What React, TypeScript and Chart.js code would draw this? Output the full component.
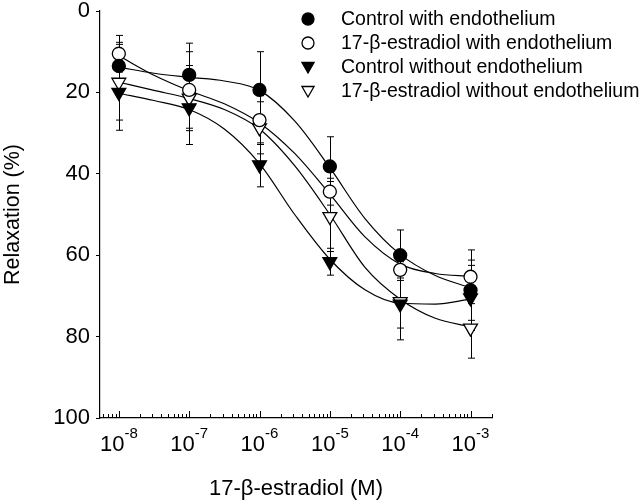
import React, { useEffect, useRef } from 'react';
import { Chart, registerables } from 'chart.js';

Chart.register(...registerables);

const FONT = '"Liberation Sans", Arial, sans-serif';

// Measured concentrations (M)
const concentrations = [1e-8, 1e-7, 1e-6, 1e-5, 1e-4, 1e-3];

// Mean relaxation (%) and error (±) for each group
const controlWith = [13.5, 15.7, 19.4, 38.2, 60.0, 68.6];
const controlWithErr = [5.8, 7.8, 9.4, 7.3, 6.2, 7.4];
const estradiolWith = [10.5, 19.4, 26.8, 44.4, 63.6, 65.3];
const estradiolWithErr = [4.5, 9.4, 6.0, 3.3, 2.0, 6.6];
const controlWithout = [20.0, 23.8, 37.8, 61.6, 72.0, 70.5];
const controlWithoutErr = [9.3, 9.0, 5.4, 3.3, 8.8, 8.0];
const estradiolWithout = [17.5, 21.4, 28.7, 50.5, 71.4, 77.9];
const estradiolWithoutErr = [9.3, 8.0, 6.4, 8.6, 6.5, 7.4];

// Fitted curves at half-decade steps
const fitConcentrations = [1e-8, 3.16e-8, 1e-7, 3.16e-7, 1e-6, 3.16e-6, 1e-5, 3.16e-5, 1e-4, 3.16e-4, 1e-3];
const controlWithFit = [13.8, 15.3, 16.3, 17.2, 19.5, 27.0, 38.5, 51.0, 59.8, 65.0, 68.0];
const estradiolWithFit = [11.0, 15.8, 19.6, 22.8, 27.5, 35.0, 45.0, 55.5, 62.2, 64.5, 65.2];
const controlWithoutFit = [20.2, 22.0, 24.2, 29.0, 37.5, 50.0, 61.0, 68.5, 71.8, 72.0, 70.8];
const estradiolWithoutFit = [17.5, 19.5, 21.5, 24.2, 29.0, 38.0, 50.0, 63.0, 70.8, 75.5, 77.6];

const seriesLabels = [
  'Control with endothelium',
  '17-β-estradiol with endothelium',
  'Control without endothelium',
  '17-β-estradiol without endothelium',
];

const decadeTicks = [1e-8, 1e-7, 1e-6, 1e-5, 1e-4, 1e-3];
const decadeExponents = ['-8', '-7', '-6', '-5', '-4', '-3'];
const minorMultipliers = [2, 3, 4, 5, 6, 7, 8, 9];

const yTickStep = 20;

const means = [controlWith, estradiolWith, controlWithout, estradiolWithout];
const errors = [controlWithErr, estradiolWithErr, controlWithoutErr, estradiolWithoutErr];
const fits = [controlWithFit, estradiolWithFit, controlWithoutFit, estradiolWithoutFit];
const styles = [
  { shape: 'circle', fill: '#000' },
  { shape: 'circle', fill: '#fff' },
  { shape: 'triangle', fill: '#000' },
  { shape: 'triangle', fill: '#fff' },
];

function drawMarker(ctx: CanvasRenderingContext2D, shape: string, fill: string, x: number, y: number, r: number) {
  ctx.save();
  ctx.beginPath();
  if (shape === 'circle') {
    ctx.arc(x, y, r, 0, Math.PI * 2);
  } else {
    const s = r;
    ctx.moveTo(x - s * 0.866, y - s * 0.5);
    ctx.lineTo(x + s * 0.866, y - s * 0.5);
    ctx.lineTo(x, y + s);
    ctx.closePath();
  }
  ctx.fillStyle = fill;
  ctx.fill();
  ctx.lineWidth = 1.3;
  ctx.strokeStyle = '#000';
  ctx.stroke();
  ctx.restore();
}

const customPlugin = {
  id: 'customDraw',
  beforeDatasetsDraw(chart: any) {
    const { ctx } = chart;
    const xs = chart.scales.x;
    const ys = chart.scales.y;
    ctx.save();
    ctx.strokeStyle = '#000';
    ctx.lineWidth = 1;
    means.forEach((m, si) => {
      m.forEach((v, i) => {
        const px = Math.round(xs.getPixelForValue(concentrations[i])) + 0.5;
        const e = errors[si][i];
        const top = ys.getPixelForValue(v - e);
        const bot = ys.getPixelForValue(v + e);
        ctx.beginPath();
        ctx.moveTo(px, top);
        ctx.lineTo(px, bot);
        ctx.moveTo(px - 3.5, top);
        ctx.lineTo(px + 3.5, top);
        ctx.moveTo(px - 3.5, bot);
        ctx.lineTo(px + 3.5, bot);
        ctx.stroke();
      });
    });
    ctx.restore();
  },
  afterDraw(chart: any) {
    const { ctx, chartArea } = chart;
    const xs = chart.scales.x;
    const yBase = chartArea.bottom;
    ctx.save();
    ctx.strokeStyle = '#000';
    ctx.lineWidth = 1;
    // minor and major ticks on x axis pointing inward
    const decadesAll = [1e-9, ...decadeTicks];
    decadesAll.forEach((d) => {
      minorMultipliers.forEach((m) => {
        const v = d * m;
        if (v < xs.min || v > xs.max) return;
        const px = Math.round(xs.getPixelForValue(v)) + 0.5;
        ctx.beginPath();
        ctx.moveTo(px, yBase);
        ctx.lineTo(px, yBase - 4);
        ctx.stroke();
      });
    });
    decadeTicks.forEach((d) => {
      const px = Math.round(xs.getPixelForValue(d)) + 0.5;
      ctx.beginPath();
      ctx.moveTo(px, yBase);
      ctx.lineTo(px, yBase - 7);
      ctx.stroke();
    });
    // decade labels with superscripts
    ctx.fillStyle = '#000';
    ctx.textBaseline = 'alphabetic';
    decadeTicks.forEach((d, i) => {
      const px = xs.getPixelForValue(d);
      ctx.font = `22px ${FONT}`;
      const w1 = ctx.measureText('10').width;
      ctx.font = `15px ${FONT}`;
      const w2 = ctx.measureText(decadeExponents[i]).width;
      const start = px - (w1 + w2) / 2;
      ctx.font = `22px ${FONT}`;
      ctx.fillText('10', start, 451);
      ctx.font = `15px ${FONT}`;
      ctx.fillText(decadeExponents[i], start + w1, 438);
    });
    // legend
    const legendX = 308;
    const textX = 341;
    const rows = [19, 43, 67, 91];
    seriesLabels.forEach((label, i) => {
      const st = styles[i];
      drawMarker(ctx, st.shape, st.fill, legendX, rows[i] + (st.shape === 'triangle' ? -1 : 0), st.shape === 'circle' ? 6 : 7);
      ctx.font = `19.5px ${FONT}`;
      ctx.fillStyle = '#000';
      ctx.textBaseline = 'middle';
      ctx.fillText(label, textX, rows[i] + 1);
    });
    ctx.restore();
  },
};

export default function App() {
  const ref = useRef<HTMLCanvasElement | null>(null);

  useEffect(() => {
    if (!ref.current) return;
    const pointSets = means.map((m, si) => ({
      label: seriesLabels[si],
      data: m.map((v, i) => ({ x: concentrations[i], y: v })),
      showLine: false,
      pointStyle: styles[si].shape,
      pointRotation: styles[si].shape === 'triangle' ? 180 : 0,
      pointRadius: styles[si].shape === 'circle' ? 6.5 : 8,
      pointBackgroundColor: styles[si].fill,
      pointBorderColor: '#000',
      pointBorderWidth: 1.3,
      order: 1,
    }));
    const curveSets = fits.map((f, si) => ({
      label: seriesLabels[si] + ' fit',
      data: f.map((v, i) => ({ x: fitConcentrations[i], y: v })),
      showLine: true,
      pointRadius: 0,
      borderColor: '#000',
      borderWidth: 1.2,
      cubicInterpolationMode: 'monotone',
      order: 2,
    }));

    const chart = new Chart(ref.current, {
      type: 'scatter',
      data: { datasets: [...pointSets, ...curveSets] as any },
      options: {
        responsive: false,
        animation: false,
        layout: { padding: { top: 11, right: 148, left: 0, bottom: 0 } },
        plugins: { legend: { display: false }, tooltip: { enabled: false } },
        scales: {
          x: {
            type: 'logarithmic',
            min: 5.4e-9,
            max: 2.02e-3,
            ticks: { display: false },
            grid: { display: false },
            border: { display: true, color: '#000', width: 1.2 },
            title: {
              display: true,
              text: '17-β-estradiol (M)',
              color: '#000',
              font: { family: FONT, size: 22 },
              padding: { top: 0, bottom: 2 },
            },
            afterFit: (s: any) => {
              s.height = 86;
              s.paddingLeft = 0;
              s.paddingRight = 0;
            },
          },
          y: {
            type: 'linear',
            reverse: true,
            min: 0,
            max: 100,
            ticks: {
              stepSize: yTickStep,
              color: '#000',
              font: { family: FONT, size: 22 },
              padding: 6,
            },
            grid: { display: true, drawOnChartArea: false, drawTicks: true, tickLength: 4, color: '#000' },
            border: { display: true, color: '#000', width: 1.2 },
            title: {
              display: true,
              text: 'Relaxation (%)',
              color: '#000',
              font: { family: FONT, size: 21.5 },
              padding: { top: 0, bottom: 0 },
            },
            afterFit: (s: any) => {
              s.width = 100;
              s.paddingTop = 0;
              s.paddingBottom = 0;
            },
          },
        },
      },
      plugins: [customPlugin],
    });
    return () => chart.destroy();
  }, []);

  return (
    <canvas
      ref={ref}
      width={640}
      height={504}
      style={{ position: 'fixed', left: 0, top: 0, display: 'block', background: '#fff' }}
    />
  );
}
